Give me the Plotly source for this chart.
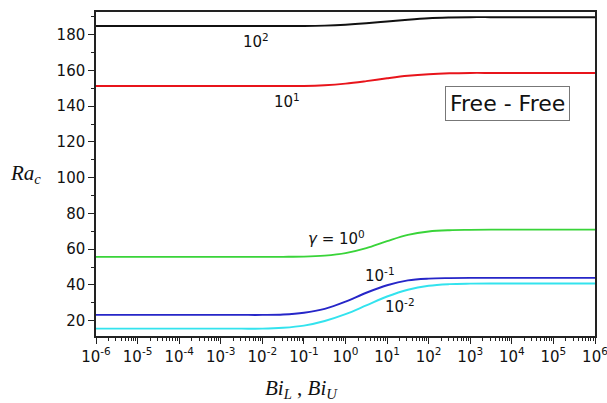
import plotly.graph_objects as go

# log10(Bi) sample points (half decades)
log_bi = [-6, -5.5, -5, -4.5, -4, -3.5, -3, -2.5, -2, -1.5, -1, -0.5, 0,
          0.5, 1, 1.5, 2, 2.5, 3, 3.5, 4, 4.5, 5, 5.5, 6]
bi = [10 ** e for e in log_bi]

ra_g100 = [184.9, 184.9, 184.9, 184.9, 184.9, 184.9, 184.9, 184.9, 184.9, 184.9, 184.9, 185.1, 185.6,
           186.4, 187.4, 188.4, 189.2, 189.6, 189.8, 189.8, 189.8, 189.8, 189.8, 189.8, 189.8]
ra_g10 = [151.3, 151.3, 151.3, 151.3, 151.3, 151.3, 151.3, 151.3, 151.3, 151.3, 151.3, 151.7, 152.6,
          154.0, 155.6, 157.0, 157.9, 158.4, 158.6, 158.6, 158.6, 158.6, 158.6, 158.6, 158.6]
ra_g1 = [55.7, 55.7, 55.7, 55.7, 55.7, 55.7, 55.7, 55.7, 55.7, 55.7, 55.8, 56.4, 57.8,
         60.6, 64.5, 68.0, 69.9, 70.6, 70.8, 70.9, 70.9, 70.9, 70.9, 70.9, 70.9]
ra_g01 = [23.2, 23.2, 23.2, 23.2, 23.2, 23.2, 23.2, 23.2, 23.2, 23.4, 24.4, 26.6, 30.6,
          35.6, 39.8, 42.5, 43.5, 43.8, 43.9, 43.9, 43.9, 43.9, 43.9, 43.9, 43.9]
ra_g001 = [15.5, 15.5, 15.5, 15.5, 15.5, 15.5, 15.5, 15.5, 15.5, 16.0, 17.2, 19.8, 23.6,
           28.5, 33.5, 37.3, 39.5, 40.4, 40.7, 40.8, 40.8, 40.8, 40.8, 40.8, 40.8]

x_tick_exps = [-6, -5, -4, -3, -2, -1, 0, 1, 2, 3, 4, 5, 6]
x_tick_vals = [10 ** e for e in x_tick_exps]
x_tick_text = ["10<sup>%d</sup>" % e for e in x_tick_exps]
y_tick_vals = [20, 40, 60, 80, 100, 120, 140, 160, 180]

series = [
    ("γ = 10²", ra_g100, "#111111"),
    ("γ = 10¹", ra_g10, "#e8141b"),
    ("γ = 10⁰", ra_g1, "#39d439"),
    ("γ = 10⁻¹", ra_g01, "#2626c8"),
    ("γ = 10⁻²", ra_g001, "#33e3ee"),
]

fig = go.Figure()
for name, ys, col in series:
    fig.add_trace(go.Scatter(x=bi, y=ys, mode="lines", name=name,
                             line=dict(color=col, width=1.9, shape="spline"),
                             showlegend=False))

tick_font = dict(family="DejaVu Sans", size=15, color="#111111")
lbl_font = dict(family="DejaVu Sans", size=15, color="#111111")

fig.update_xaxes(type="log", range=[-6, 6], tickmode="array", tickvals=x_tick_vals,
                 ticktext=x_tick_text, tickangle=0, automargin=False,
                 ticklabeloverflow="allow",
                 showgrid=False, zeroline=False, showline=True, linecolor="#222222",
                 linewidth=1.5, mirror=True, ticks="outside", ticklen=6, tickwidth=1.2,
                 tickcolor="#222222", tickfont=tick_font,
                 minor=dict(ticks="outside", ticklen=3, tickcolor="#222222", dtick="D1",
                            showgrid=False))
fig.update_yaxes(range=[11.4, 192.7], tickmode="array", tickvals=y_tick_vals, automargin=False,
                 showgrid=False, zeroline=False, showline=True, linecolor="#222222",
                 linewidth=1.5, mirror=True, ticks="outside", ticklen=6, tickwidth=1.2,
                 tickcolor="#222222", tickfont=tick_font,
                 minor=dict(ticks="outside", ticklen=3, tickcolor="#222222", dtick=10,
                            tick0=0, showgrid=False))

annos = [
    dict(x=-2.16, y=176.5, text="10<sup>2</sup>"),
    dict(x=-1.41, y=142.9, text="10<sup>1</sup>"),
    dict(x=-0.22, y=66.5, text="<i>γ</i> = 10<sup>0</sup>"),
    dict(x=0.83, y=45.5, text="10<sup>-1</sup>"),
    dict(x=1.31, y=28.0, text="10<sup>-2</sup>"),
]
for a in annos:
    fig.add_annotation(xref="x", yref="y", showarrow=False, font=lbl_font,
                       xanchor="center", yanchor="middle", **a)

fig.add_annotation(xref="paper", yref="paper", x=(507 - 96) / 499, y=(336 - 103) / 324,
                   xanchor="center", yanchor="middle",
                   text="Free - Free", showarrow=False,
                   font=dict(family="DejaVu Sans", size=22, color="#111111"),
                   bordercolor="#777777", borderwidth=1, borderpad=4, bgcolor="white")

fig.add_annotation(xref="paper", yref="paper", x=(25 - 96) / 499, y=(336 - 174) / 324,
                   xanchor="center", yanchor="middle",
                   text="<i>Ra</i><sub><i>c</i></sub>", showarrow=False,
                   font=dict(family="Liberation Serif", size=21, color="#111111"))
fig.add_annotation(xref="paper", yref="paper", x=(301 - 96) / 499, y=(336 - 389) / 324,
                   xanchor="center", yanchor="middle",
                   text="<i>Bi</i><sub><i>L</i></sub> , <i>Bi</i><sub><i>U</i></sub>",
                   showarrow=False,
                   font=dict(family="Liberation Serif", size=21, color="#111111"))

fig.update_layout(width=607, height=403, margin=dict(l=96, r=12, t=12, b=67),
                  paper_bgcolor="white", plot_bgcolor="white")

fig.write_html("out.html", config={"displayModeBar": False},
               post_script="document.body.style.margin='0';document.body.style.overflow='hidden';")
